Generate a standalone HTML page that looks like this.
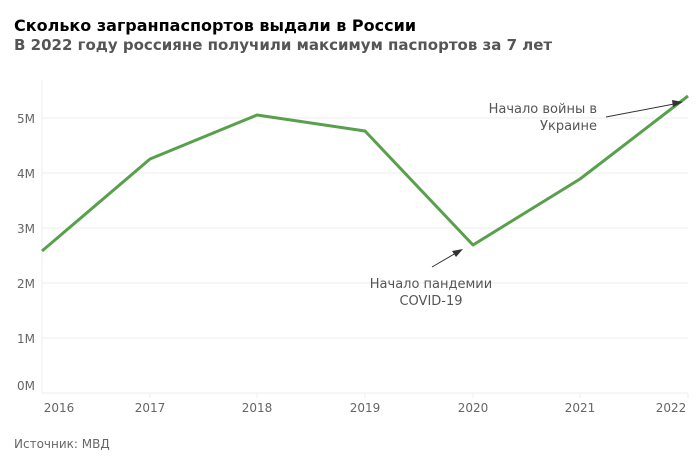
<!DOCTYPE html>
<html><head><meta charset="utf-8"><style>
body{margin:0;background:#fff;width:699px;height:466px;overflow:hidden;font-family:"DejaVu Sans","Liberation Sans",sans-serif}
</style></head><body>
<svg width="699" height="466" xmlns="http://www.w3.org/2000/svg" font-family="DejaVu Sans, Liberation Sans, sans-serif">
<text x="14" y="31" font-size="16" font-weight="bold" fill="#000">Сколько загранпаспортов выдали в России</text>
<text x="14" y="50" font-size="15" font-weight="bold" fill="#555">В 2022 году россияне получили максимум паспортов за 7 лет</text>
<g stroke="#eee" stroke-width="1">
<line x1="42" y1="118" x2="688" y2="118"/><line x1="42" y1="173" x2="688" y2="173"/><line x1="42" y1="228" x2="688" y2="228"/><line x1="42" y1="283" x2="688" y2="283"/><line x1="42" y1="338" x2="688" y2="338"/><line x1="42" y1="393" x2="688" y2="393"/>
<line x1="42" y1="80" x2="42" y2="393"/>
<line x1="150" y1="393" x2="150" y2="398"/><line x1="257" y1="393" x2="257" y2="398"/><line x1="365" y1="393" x2="365" y2="398"/><line x1="473" y1="393" x2="473" y2="398"/><line x1="580" y1="393" x2="580" y2="398"/><line x1="688" y1="393" x2="688" y2="398"/>
</g>
<g font-size="12" fill="#666" text-anchor="end">
<text x="35" y="123">5M</text><text x="35" y="178">4M</text><text x="35" y="233">3M</text><text x="35" y="288">2M</text><text x="35" y="343">1M</text><text x="35" y="390">0M</text>
</g>
<g font-size="12" fill="#666" text-anchor="middle">
<text x="59" y="412">2016</text><text x="150" y="412">2017</text><text x="257" y="412">2018</text><text x="365" y="412">2019</text><text x="473" y="412">2020</text><text x="580" y="412">2021</text><text x="671" y="412">2022</text>
</g>
<polyline points="42,251 150,159 257,115 365,131 473,245 580,179 688,96" fill="none" stroke="#58a04b" stroke-width="3" stroke-linejoin="round"/>
<g fill="#555" font-size="13">
<text x="431" y="288" text-anchor="middle">Начало пандемии</text>
<text x="431" y="305" text-anchor="middle">COVID-19</text>
<text x="597" y="113" text-anchor="end">Начало войны в</text>
<text x="597" y="130" text-anchor="end">Украине</text>
</g>
<line x1="432" y1="267" x2="456" y2="253" stroke="#333" stroke-width="1"/>
<polygon points="463,249 452,251 456,257" fill="#333"/>
<line x1="606" y1="117" x2="674" y2="104" stroke="#333" stroke-width="1"/>
<polygon points="683,102 672,100 673,107" fill="#333"/>
<text x="14" y="448" font-size="12" fill="#666">Источник: МВД</text>
</svg>
</body></html>
